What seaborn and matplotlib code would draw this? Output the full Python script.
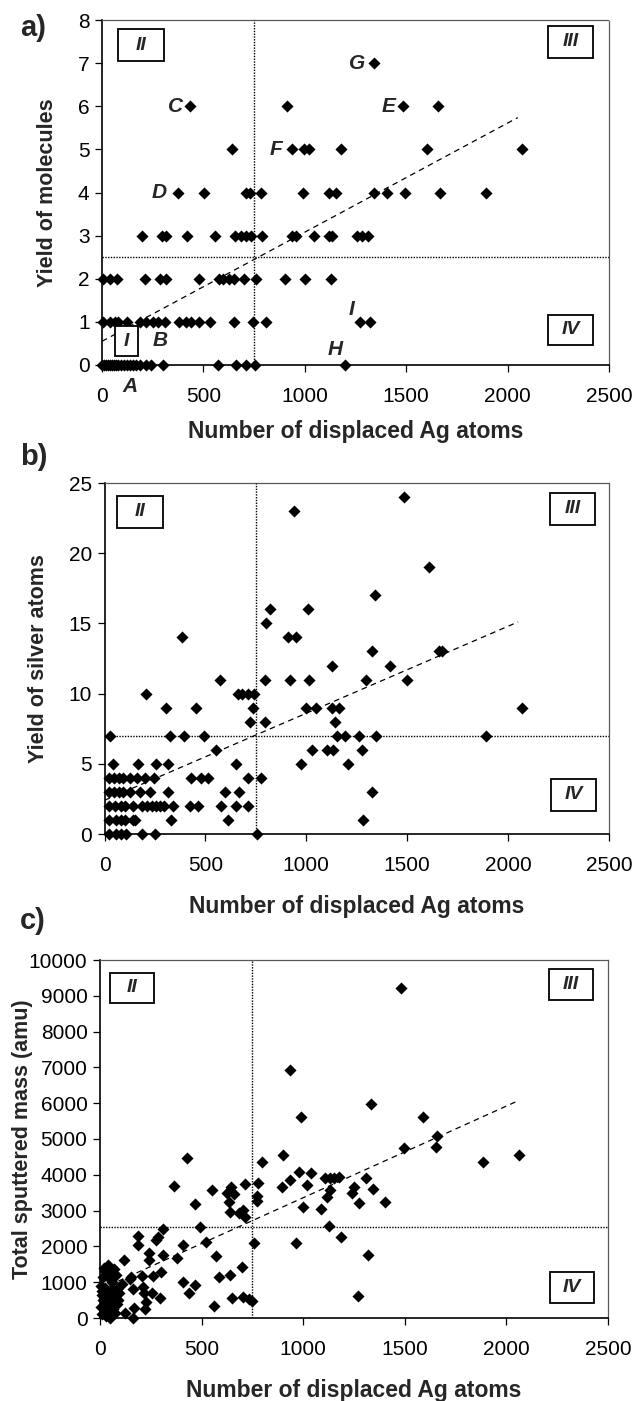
import numpy as np
import pandas as pd
import matplotlib
matplotlib.use("Agg")
import matplotlib.pyplot as plt
from matplotlib.patches import Rectangle
import seaborn as sns

# ---------------- data ----------------
# panel a: yield of molecules
a_x = [1343,
       436, 913, 1482, 1657,
       641, 938, 995, 1020, 1180, 1603, 2069,
       377, 505, 712, 730, 783, 990, 1118, 1152, 1343, 1407, 1495, 1667, 1892,
       199, 296, 318, 418, 559, 657, 684, 709, 735, 790, 937, 959, 1044, 1118, 1133, 1255, 1280, 1314,
       5, 39, 74, 211, 284, 318, 477, 578, 598, 627, 649, 701, 758, 902, 1003, 1131,
       5, 39, 64, 80, 121, 186, 219, 250, 275, 309, 382, 416, 441, 480, 532, 652, 745, 807, 1273, 1322,
       0, 10, 20, 30, 40, 50, 60, 70, 80, 95, 110, 125, 140, 155, 170, 186, 219, 243, 300, 574, 663, 712, 755, 1196]
a_y = [7,
       6, 6, 6, 6,
       5, 5, 5, 5, 5, 5, 5,
       4, 4, 4, 4, 4, 4, 4, 4, 4, 4, 4, 4, 4,
       3, 3, 3, 3, 3, 3, 3, 3, 3, 3, 3, 3, 3, 3, 3, 3, 3, 3,
       2, 2, 2, 2, 2, 2, 2, 2, 2, 2, 2, 2, 2, 2, 2, 2,
       1, 1, 1, 1, 1, 1, 1, 1, 1, 1, 1, 1, 1, 1, 1, 1, 1, 1, 1, 1,
       0, 0, 0, 0, 0, 0, 0, 0, 0, 0, 0, 0, 0, 0, 0, 0, 0, 0, 0, 0, 0, 0, 0, 0]

# panel b: yield of silver atoms
b_x = [1485, 941, 1608, 1342, 819, 1006, 799, 382, 908, 951,
       1328, 1660, 1670, 1126, 1415,
       570, 794, 918, 1014, 1294, 1500,
       206, 660, 680, 709, 742,
       306, 452, 737, 1000, 1049, 1126, 1162, 2069,
       722, 794, 1142,
       26, 325, 395, 492, 1154, 1191, 1261, 1346, 1892,
       551, 1028, 1104, 1134, 1274,
       44, 167, 257, 314, 652, 974, 1205,
       20, 47, 72, 93, 128, 162, 203, 243, 431, 480, 513, 712, 775,
       20, 47, 72, 93, 128, 177, 227, 314, 598, 667, 1328,
       20, 53, 80, 103, 141, 186, 211, 235, 257, 275, 294, 337, 422, 464, 578, 652, 712,
       20, 55, 80, 100, 142, 153, 330, 611, 1280,
       20, 55, 80, 108, 186, 248, 758]
b_y = [24, 23, 19, 17, 16, 16, 15, 14, 14, 14,
       13, 13, 13, 12, 12,
       11, 11, 11, 11, 11, 11,
       10, 10, 10, 10, 10,
       9, 9, 9, 9, 9, 9, 9, 9,
       8, 8, 8,
       7, 7, 7, 7, 7, 7, 7, 7, 7,
       6, 6, 6, 6, 6,
       5, 5, 5, 5, 5, 5, 5,
       4, 4, 4, 4, 4, 4, 4, 4, 4, 4, 4, 4, 4,
       3, 3, 3, 3, 3, 3, 3, 3, 3, 3, 3,
       2, 2, 2, 2, 2, 2, 2, 2, 2, 2, 2, 2, 2, 2, 2, 2, 2,
       1, 1, 1, 1, 1, 1, 1, 1, 1,
       0, 0, 0, 0, 0, 0, 0]

# panel c: total sputtered mass (amu)
c_x = [1480, 933, 1333, 990, 1591, 1657, 1652, 1496, 2064, 1886, 900, 799, 427, 979, 1038,
       1109, 1133, 1152, 1175, 1310, 1020, 1133, 1343, 1250, 1241, 1118, 1402, 1274, 1000, 1088,
       1127, 1186, 965, 1317, 1270, 933, 897, 366, 553, 623, 643, 657, 712, 780, 771, 775, 636,
       467, 640, 684, 705, 716, 493, 522, 758, 407, 570, 379, 586, 640, 697, 407, 467, 439, 559,
       652, 706, 750, 735, 186, 186, 276, 284, 309, 243, 243, 309, 300, 260, 206, 118, 152, 150,
       108, 162, 211, 216, 255, 297, 227, 222, 167, 121, 162,
       20, 40, 55, 70, 35, 80, 15, 50, 25, 60, 10, 45, 80, 30, 70, 15, 55, 35, 85, 20, 65, 40,
       10, 75, 30, 50, 5, 90, 95, 5, 60, 25, 45, 85, 12, 68]
c_y = [9220, 6930, 5980, 5615, 5620, 5090, 4790, 4740, 4550, 4360, 4550, 4370, 4460, 4090, 4060,
       3910, 3910, 3920, 3930, 3910, 3715, 3575, 3600, 3660, 3490, 3390, 3240, 3220, 3100, 3040,
       2570, 2260, 2090, 1760, 623, 3855, 3660, 3690, 3575, 3500, 3660, 3470, 3740, 3770, 3400, 3260, 3240,
       3180, 2960, 2930, 3020, 2820, 2540, 2120, 2090, 2040, 1730, 1670, 1150, 1200, 1420, 1010, 920, 700, 330,
       560, 590, 470, 530, 2290, 2040, 2180, 2260, 2480, 1810, 1620, 1760, 1290, 1170, 1170, 1620, 1150, 1080,
       950, 800, 870, 700, 700, 560, 450, 250, 280, 140, 0,
       1400, 1480, 1350, 1380, 1250, 1200, 1150, 1100, 850, 800, 750, 700, 650, 600, 550, 500, 450, 400,
       380, 300, 250, 200, 120, 150, 50, 0, 300, 500, 700, 900, 1000, 1300, 550, 800, 650, 350]

# quadrant thresholds and trend lines (intercept, slope)
x_threshold = 750
y_thresholds = [2.5, 7, 2550]
trend_coefs = [(0.55, 0.00253), (2.4, 0.0062), (800, 2.56)]
trend_x_range = [0, 2050]

y_labels = ["Yield of molecules", "Yield of silver atoms", "Total sputtered mass (amu)"]
x_label = "Number of displaced Ag atoms"
y_limits = [(0, 8), (0, 25), (0, 10000)]
y_ticks = [np.arange(0, 9, 1), np.arange(0, 26, 5), np.arange(0, 10001, 1000)]
x_ticks = [0, 500, 1000, 1500, 2000, 2500]
panel_letters = ["a)", "b)", "c)"]

# ---------------- style ----------------
sns.set_style("ticks")
plt.rcParams['font.family'] = ['Liberation Sans', 'DejaVu Sans']

fig = plt.figure(figsize=(6.36, 14.01), dpi=100)
W, H = 636, 1401
# axes boxes in pixels (left, right, top, bottom)
boxes = [(102, 609, 20, 365), (104.5, 609, 483, 834), (100, 608, 960, 1318)]
ylabel_x = [58, 49, 33]
xlabel_pad = [10, 14, 14]
letter_y = [28, 457, 921]

# roman-numeral boxes in axes fraction (x0, x1, y0, y1)
roman = [
    [("II", 0.032, 0.122, 0.881, 0.974), ("III", 0.880, 0.968, 0.890, 0.983), ("IV", 0.880, 0.968, 0.058, 0.145)],
    [("II", 0.025, 0.116, 0.872, 0.963), ("III", 0.883, 0.972, 0.880, 0.972), ("IV", 0.885, 0.974, 0.066, 0.157)],
    [("II", 0.020, 0.106, 0.880, 0.964), ("III", 0.884, 0.970, 0.888, 0.975), ("IV", 0.886, 0.972, 0.042, 0.128)],
]

xs = [a_x, b_x, c_x]
ys = [a_y, b_y, c_y]

for i in range(3):
    l, r, t, b = boxes[i]
    ax = fig.add_axes([l / W, 1 - b / H, (r - l) / W, (b - t) / H])
    df = pd.DataFrame({"x": xs[i], "y": ys[i]})
    sns.scatterplot(data=df, x="x", y="y", ax=ax, marker="D", s=38, color="black",
                    linewidth=0, clip_on=False, zorder=5)
    # trend line
    b0, b1 = trend_coefs[i]
    tx = np.array(trend_x_range, dtype=float)
    tdf = pd.DataFrame({"x": tx, "y": b0 + b1 * tx})
    sns.lineplot(data=tdf, x="x", y="y", ax=ax, color="black", lw=0.9,
                 dashes=False, zorder=4).lines[-1].set_dashes([4.5, 3.5])
    ax.axvline(x_threshold, color="black", lw=1.0, ls=(0, (1, 1)), zorder=3)
    ax.axhline(y_thresholds[i], color="black", lw=1.0, ls=(0, (1, 1)), zorder=3)

    ax.set_xlim(0, 2500)
    ax.set_ylim(*y_limits[i])
    ax.set_xticks(x_ticks)
    ax.set_yticks(y_ticks[i])
    ax.tick_params(axis="both", direction="out", length=5, width=0.9, labelsize=15, colors="black")
    ax.tick_params(axis="x", pad=11)
    ax.tick_params(axis="y", pad=4)
    for s in ["left", "bottom"]:
        ax.spines[s].set_color("black")
        ax.spines[s].set_linewidth(1.2)
    for s in ["top", "right"]:
        ax.spines[s].set_visible(True)
        ax.spines[s].set_color("0.35")
        ax.spines[s].set_linewidth(0.9)
        ax.spines[s].set_linestyle((0, (1, 1)))
    ax.set_xlabel(x_label, fontsize=16.5, fontweight="bold", labelpad=xlabel_pad[i])
    ax.set_ylabel(y_labels[i], fontsize=15.5, fontweight="bold")
    ax.yaxis.set_label_coords((ylabel_x[i] - l) / (r - l), 0.5)

    for txt, x0, x1, y0, y1 in roman[i]:
        ax.add_patch(Rectangle((x0, y0), x1 - x0, y1 - y0, transform=ax.transAxes,
                               fill=False, edgecolor="black", lw=1.3, zorder=6))
        ax.text((x0 + x1) / 2, (y0 + y1) / 2, txt, transform=ax.transAxes, ha="center",
                va="center", fontsize=14, fontweight="bold", fontstyle="italic", zorder=7)

    fig.text(20 / W, 1 - letter_y[i] / H, panel_letters[i], fontsize=21, fontweight="bold",
             ha="left", va="center")

    if i == 0:
        lab = dict(fontsize=15, fontweight="bold", fontstyle="italic", va="center", zorder=7)
        ax.text(400, 6, "C", ha="right", **lab)
        ax.text(318, 4, "D", ha="right", **lab)
        ax.text(887, 5, "F", ha="right", **lab)
        ax.text(1300, 7, "G", ha="right", **lab)
        ax.text(1445, 6, "E", ha="right", **lab)
        ax.text(1230, 1.28, "I", ha="center", **lab)
        ax.text(1150, 0.36, "H", ha="center", **lab)
        ax.text(288, 0.56, "B", ha="center", **lab)
        ax.text(136, -0.51, "A", ha="center", clip_on=False, **lab)
        ax.add_patch(Rectangle((0.026, 0.026), 0.045, 0.087, transform=ax.transAxes,
                               fill=True, facecolor="white", edgecolor="black", lw=1.3, zorder=6))
        ax.text(0.0485, 0.0695, "I", transform=ax.transAxes, ha="center", va="center",
                fontsize=14, fontweight="bold", fontstyle="italic", zorder=7)

fig.savefig("out.png", dpi=100, facecolor="white")
